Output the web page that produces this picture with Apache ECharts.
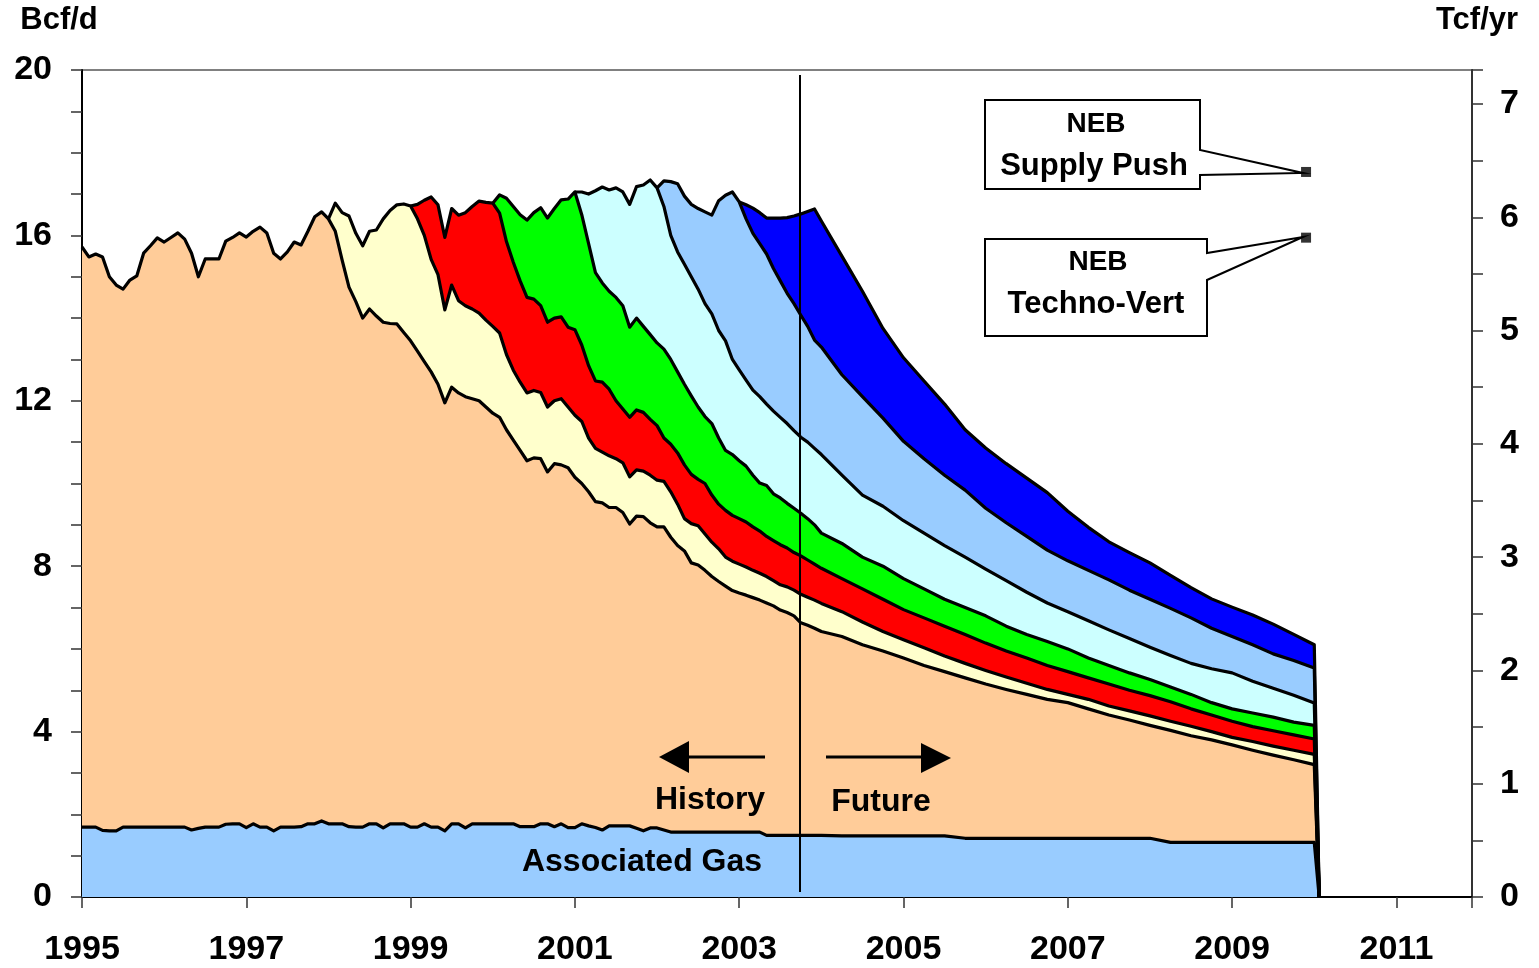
<!DOCTYPE html>
<html>
<head>
<meta charset="utf-8">
<title>Deliverability by vintage</title>
<script src="https://cdn.jsdelivr.net/npm/echarts@6/dist/echarts.min.js"></script>
<style>
  html, body { margin: 0; padding: 0; background: #fff; }
  #chart { width: 1539px; height: 968px; }
</style>
</head>
<body>
<div id="chart"></div>
<script>
(function() {
  'use strict';

  // x grid: monthly Jan 1995 .. Jan 2004, then quarterly to Jan 2010
  var histYears = [];
  for (var m = 0; m <= 108; m++) histYears.push(1995 + m / 12);
  var futureYears = [2004.25, 2004.5, 2004.75, 2005, 2005.25, 2005.5, 2005.75, 2006, 2006.25, 2006.5, 2006.75, 2007,
    2007.25, 2007.5, 2007.75, 2008, 2008.25, 2008.5, 2008.75, 2009, 2009.25, 2009.5, 2009.75, 2010];
  var dropYear = 2010.06;

  // top of each band (Bcf/d), history monthly from the vintage's first month
  var assocHist = [1.69,1.69,1.69,1.61,1.60,1.60,1.69,1.69,1.69,1.69,1.69,1.69,
    1.69,1.69,1.69,1.69,1.62,1.66,1.69,1.69,1.69,1.76,1.77,1.77,
    1.68,1.77,1.69,1.69,1.60,1.69,1.69,1.69,1.70,1.77,1.77,1.84,
    1.77,1.77,1.77,1.70,1.69,1.69,1.77,1.77,1.67,1.77,1.77,1.77,
    1.69,1.69,1.77,1.69,1.69,1.60,1.77,1.77,1.67,1.77,1.77,1.77,
    1.77,1.77,1.77,1.77,1.70,1.70,1.70,1.77,1.77,1.70,1.77,1.68,
    1.68,1.77,1.72,1.68,1.62,1.72,1.72,1.72,1.72,1.66,1.60,1.67,
    1.67,1.62,1.57,1.57,1.57,1.57,1.57,1.57,1.57,1.57,1.57,1.57,
    1.57,1.57,1.57,1.57,1.49,1.49,1.49,1.49,1.49,1.49,1.49,1.49,
    1.49];
  var assocFut = [1.48,1.48,1.48,1.48,1.48,1.48,1.42,1.42,1.42,1.42,1.42,1.42,1.42,1.42,1.42,1.42,
    1.32,1.32,1.32,1.32,1.32,1.32,1.32,1.32];

  var pre98Hist = [15.72,15.48,15.55,15.48,15.0,14.80,14.70,14.92,15.02,15.57,15.75,15.94,
    15.84,15.95,16.06,15.91,15.57,15.0,15.43,15.43,15.43,15.86,15.95,16.06,
    15.96,16.1,16.2,16.06,15.57,15.43,15.6,15.84,15.77,16.1,16.45,16.57,
    16.4,16.1,15.4,14.75,14.4,14.0,14.22,14.05,13.9,13.87,13.86,13.65,
    13.45,13.2,12.95,12.7,12.4,11.95,12.33,12.19,12.1,12.05,12.0,11.85,
    11.7,11.6,11.3,11.05,10.8,10.55,10.62,10.6,10.28,10.48,10.45,10.38,
    10.15,10.0,9.8,9.56,9.53,9.42,9.42,9.3,9.02,9.21,9.2,9.05,
    8.95,8.95,8.7,8.5,8.37,8.08,8.03,7.9,7.75,7.63,7.52,7.41,
    7.35,7.3,7.24,7.18,7.11,7.04,6.94,6.88,6.8,6.63,6.57,6.5,
    6.42];
  var pre98Fut = [6.3,6.1,5.95,5.78,5.6,5.45,5.3,5.15,5.02,4.9,4.78,4.7,4.55,4.4,4.28,4.15,
    4.03,3.9,3.8,3.68,3.55,3.43,3.32,3.2];

  var v1998Hist = [16.4,16.78,16.55,16.47,16.05,15.75,16.1,16.13,16.4,16.6,16.74,16.76,
    16.71,16.4,16.0,15.42,15.05,14.2,14.8,14.42,14.3,14.22,14.12,13.95,
    13.8,13.64,13.12,12.74,12.45,12.19,12.25,12.2,11.85,12.0,12.05,11.85,
    11.65,11.5,11.1,10.85,10.76,10.67,10.6,10.5,10.16,10.33,10.3,10.2,
    10.08,10.05,9.8,9.5,9.15,9.03,8.98,8.78,8.58,8.42,8.22,8.12,
    8.05,7.98,7.9,7.83,7.75,7.65,7.55,7.5,7.42,7.32,7.25,7.18,
    7.1];
  var v1998Fut = [6.9,6.65,6.42,6.22,6.03,5.83,5.65,5.48,5.32,5.17,5.02,4.9,4.78,4.62,4.5,4.38,
    4.25,4.13,4.0,3.86,3.76,3.65,3.55,3.45];

  var v1999Hist = [16.71,16.75,16.85,16.93,16.74,15.95,16.65,16.49,16.55,16.7,16.83,16.8,
    16.78,16.54,15.85,15.35,14.9,14.5,14.46,14.3,13.9,14.0,14.03,13.78,
    13.72,13.35,12.85,12.48,12.45,12.28,12.0,11.8,11.6,11.78,11.72,11.55,
    11.4,11.1,10.95,10.74,10.45,10.22,10.1,10.0,9.72,9.5,9.35,9.23,
    9.15,9.07,8.95,8.85,8.72,8.62,8.52,8.44,8.33,8.25,8.15,8.05,
    7.95];
  var v1999Fut = [7.7,7.45,7.2,6.95,6.75,6.55,6.35,6.14,5.95,5.78,5.6,5.45,5.3,5.15,5.0,4.87,
    4.72,4.55,4.4,4.25,4.12,4.02,3.92,3.82];

  var v2000Hist = [16.78,16.98,16.9,16.7,16.5,16.37,16.55,16.67,16.42,16.65,16.86,16.88,
    17.05,16.5,15.8,15.1,14.85,14.65,14.5,14.3,13.78,14.0,13.8,13.6,
    13.4,13.25,13.0,12.7,12.4,12.12,11.85,11.62,11.45,11.1,10.8,10.7,
    10.55,10.42,10.2,10.01,9.95,9.75,9.65,9.52,9.4,9.28,9.15,9.0,
    8.8];
  var v2000Fut = [8.55,8.22,8.0,7.7,7.45,7.2,7.0,6.8,6.55,6.35,6.18,6.0,5.78,5.6,5.42,5.26,
    5.08,4.9,4.7,4.55,4.45,4.35,4.23,4.15];

  var v2001Hist = [17.05,17.05,17.0,17.08,17.17,17.1,17.15,17.05,16.75,17.18,17.22,17.34,
    17.15,16.7,16.0,15.6,15.3,15.0,14.7,14.35,14.1,13.7,13.45,13.0,
    12.75,12.5,12.26,12.1,11.92,11.75,11.6,11.45,11.28,11.12,11.0,10.85,
    10.7];
  var v2001Fut = [10.2,9.72,9.45,9.1,8.8,8.5,8.22,7.93,7.65,7.37,7.11,6.9,6.68,6.46,6.25,6.04,
    5.84,5.65,5.52,5.42,5.22,5.05,4.88,4.69];

  var v2002Hist = [17.15,17.32,17.3,17.25,16.95,16.75,16.65,16.57,16.49,16.84,16.97,17.05,
    16.81,16.4,16.05,15.8,15.55,15.2,14.9,14.6,14.35,14.07,13.8,13.47,
    13.3];
  var v2002Fut = [12.63,12.1,11.58,11.02,10.6,10.2,9.84,9.4,9.05,8.72,8.39,8.13,7.9,7.67,7.42,7.2,
    6.98,6.75,6.5,6.3,6.1,5.88,5.72,5.54];

  var v2003Hist = [16.81,16.74,16.66,16.55,16.42,16.42,16.42,16.43,16.47,16.52,16.58,16.64,
    16.35];
  var v2003Fut = [15.5,14.65,13.75,13.04,12.48,11.92,11.3,10.86,10.48,10.13,9.78,9.33,8.94,8.59,8.33,8.08,
    7.78,7.48,7.21,7.01,6.82,6.6,6.35,6.1];

  // NEB outlooks, Tcf/yr
  var nebYear = 2009.9;
  var nebNames = ['Supply Push', 'Techno-Vert'];
  var nebValues = [6.4, 5.82];

  var fontFamily = '"Liberation Sans", Arial, Helvetica, sans-serif';

  function band(startMonth, hist, fut) {
    var pts = [];
    for (var i = 0; i < hist.length; i++) pts.push([histYears[startMonth + i], hist[i]]);
    for (var j = 0; j < fut.length; j++) pts.push([futureYears[j], fut[j]]);
    pts.push([dropYear, 0]);
    return pts;
  }

  // drawn top band first so lower bands paint over it
  var bands = [
    { name: '2003', start: 96, hist: v2003Hist, fut: v2003Fut, color: '#0000ff' },
    { name: '2002', start: 84, hist: v2002Hist, fut: v2002Fut, color: '#99ccff' },
    { name: '2001', start: 72, hist: v2001Hist, fut: v2001Fut, color: '#ccffff' },
    { name: '2000', start: 60, hist: v2000Hist, fut: v2000Fut, color: '#00ff00' },
    { name: '1999', start: 48, hist: v1999Hist, fut: v1999Fut, color: '#ff0000' },
    { name: '1998', start: 36, hist: v1998Hist, fut: v1998Fut, color: '#ffffcc' },
    { name: 'Pre-1998', start: 0, hist: pre98Hist, fut: pre98Fut, color: '#ffcc99' },
    { name: 'Associated Gas', start: 0, hist: assocHist, fut: assocFut, color: '#99ccff' }
  ];

  var series = bands.map(function(b) {
    return {
      name: b.name,
      type: 'line',
      data: band(b.start, b.hist, b.fut),
      symbol: 'none',
      silent: true,
      lineStyle: { color: '#000', width: 3.2, join: 'round' },
      itemStyle: { color: b.color },
      areaStyle: { color: b.color, opacity: 1 }
    };
  });

  series.push({
    name: 'NEB',
    type: 'scatter',
    yAxisIndex: 1,
    symbol: 'rect',
    symbolSize: 10,
    z: 20,
    itemStyle: { color: '#000' },
    data: nebValues.map(function(v, i) { return { name: nebNames[i], value: [nebYear, v] }; })
  });

  var bold = function(size) { return 'bold ' + size + 'px ' + fontFamily; };
  var txt = function(s, x, y, size) {
    return { type: 'text', z: 30, style: { text: s, x: x, y: y, font: bold(size), fill: '#000', textAlign: 'center', textVerticalAlign: 'middle' } };
  };

  var graphics = [
    { type: 'line', z: 30, shape: { x1: 800, y1: 75, x2: 800, y2: 892 }, style: { stroke: '#000', lineWidth: 2 } },
    { type: 'line', z: 30, shape: { x1: 686, y1: 757, x2: 765, y2: 757 }, style: { stroke: '#000', lineWidth: 3 } },
    { type: 'polygon', z: 30, shape: { points: [[659, 757], [689, 741], [689, 773]] }, style: { fill: '#000' } },
    { type: 'line', z: 30, shape: { x1: 826, y1: 757, x2: 924, y2: 757 }, style: { stroke: '#000', lineWidth: 3 } },
    { type: 'polygon', z: 30, shape: { points: [[951, 758], [921, 743], [921, 773]] }, style: { fill: '#000' } },
    txt('History', 710, 800, 32),
    txt('Future', 881, 802, 32),
    txt('Associated Gas', 642, 862, 32),
    { type: 'polygon', z: 25, shape: { points: [[985, 100], [1200, 100], [1200, 150], [1303, 173], [1200, 175], [1200, 189], [985, 189]] },
      style: { fill: '#fff', stroke: '#000', lineWidth: 2 } },
    txt('NEB', 1096, 124, 28),
    txt('Supply Push', 1094, 166, 31),
    { type: 'polygon', z: 25, shape: { points: [[985, 239], [1207, 239], [1207, 253], [1303, 237], [1207, 280], [1207, 336], [985, 336]] },
      style: { fill: '#fff', stroke: '#000', lineWidth: 2 } },
    txt('NEB', 1098, 262, 28),
    txt('Techno-Vert', 1096, 304, 31),
    txt('Bcf/d', 59, 20, 31),
    txt('Tcf/yr', 1477, 20, 31)
  ];

  var labelStyle = { color: '#000', fontSize: 34, fontWeight: 'bold', fontFamily: fontFamily };

  var chart = echarts.init(document.getElementById('chart'));
  chart.setOption({
    animation: false,
    backgroundColor: '#fff',
    grid: { left: 82, right: 67, top: 70, bottom: 71, show: true, borderColor: '#808080', borderWidth: 2 },
    xAxis: {
      type: 'value',
      min: 1995,
      max: 2011.92,
      interval: 2,
      axisLine: { lineStyle: { color: '#000', width: 2 } },
      axisTick: { length: 11, lineStyle: { color: '#333', width: 1.5 } },
      axisLabel: Object.assign({ margin: 36, formatter: function(v) { return Number.isInteger(v) ? String(v) : ''; } }, labelStyle),
      splitLine: { show: false }
    },
    yAxis: [
      {
        type: 'value',
        min: 0,
        max: 20,
        interval: 1,
        position: 'left',
        axisLine: { show: true, lineStyle: { color: '#000', width: 2 } },
        axisTick: { show: true, length: 11, lineStyle: { color: '#333', width: 1.5 } },
        axisLabel: Object.assign({ margin: 30, formatter: function(v) { return v % 4 === 0 ? String(v) : ''; } }, labelStyle),
        splitLine: { show: false }
      },
      {
        type: 'value',
        min: 0,
        max: 7.3,
        interval: 0.5,
        position: 'right',
        axisLine: { show: true, lineStyle: { color: '#333', width: 2 } },
        axisTick: { show: true, length: 11, lineStyle: { color: '#333', width: 1.5 } },
        axisLabel: Object.assign({ margin: 28, formatter: function(v) {
          return (Math.abs(v - Math.round(v)) < 1e-6 && v <= 7) ? String(Math.round(v)) : '';
        } }, labelStyle),
        splitLine: { show: false }
      }
    ],
    series: series,
    graphic: graphics
  });
  window.addEventListener('resize', function() { chart.resize(); });
})();
</script>
</body>
</html>
